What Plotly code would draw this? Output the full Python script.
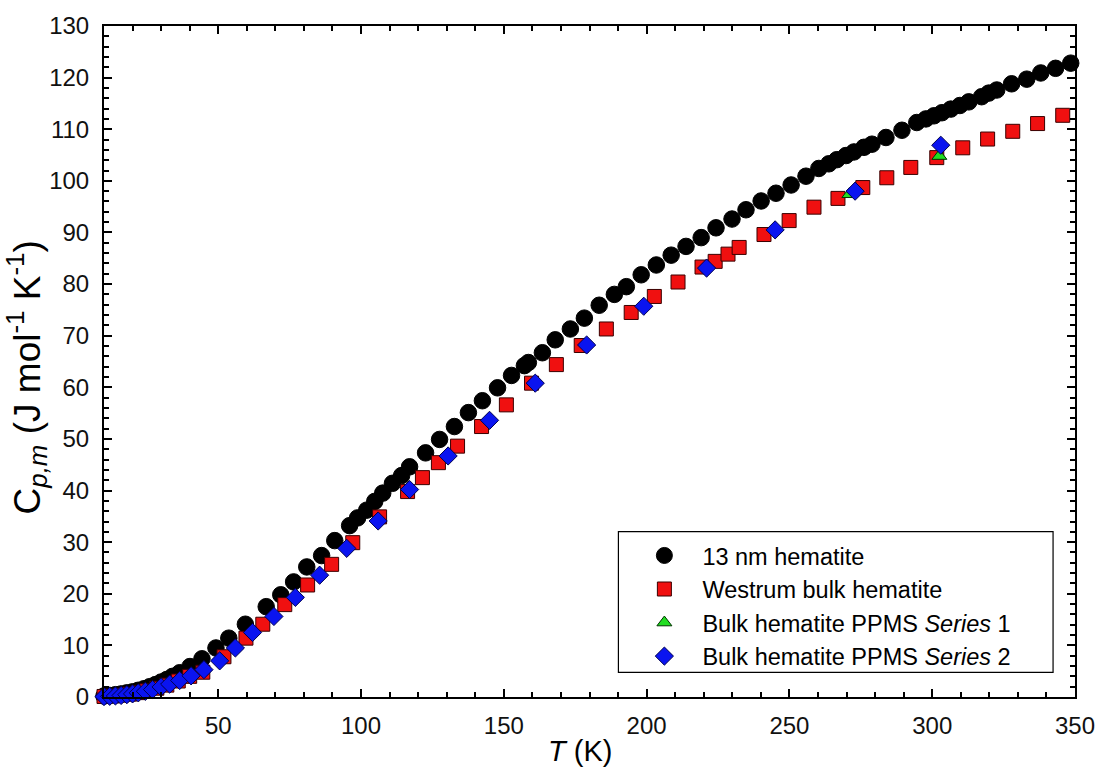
import plotly.graph_objects as go

# ---- data ----
nano_T = [10, 12, 14, 16, 18, 20, 22, 24, 26, 28, 30, 32, 34, 36.5, 40.1, 44.3, 49.2, 53.7,
          59.5, 66.8, 71.9, 76.4, 81.0, 86.2, 90.8, 96.0, 98.8, 102.0, 104.8, 107.6, 111.0,
          114.2, 117.0, 122.6, 127.5, 132.7, 137.6, 142.5, 147.8, 152.7, 157.2, 158.6, 163.5,
          168.0, 173.3, 178.2, 183.4, 188.7, 192.9, 198.1, 203.4, 208.6, 213.8, 219.1, 224.3,
          229.9, 234.8, 240.1, 245.3, 250.6, 255.8, 260.3, 263.8, 266.6, 269.8, 272.6, 276.1,
          278.9, 283.8, 289.4, 294.6, 297.8, 300.6, 303.4, 306.5, 309.7, 312.8, 317.3, 319.8,
          322.6, 327.8, 333.1, 338.0, 343.2, 348.5]
nano_Cp = [0.2, 0.3, 0.45, 0.6, 0.8, 1.0, 1.3, 1.6, 2.0, 2.4, 2.9, 3.4, 4.0, 4.7, 5.9, 7.4, 9.5, 11.4,
           14.1, 17.5, 19.8, 22.3, 25.2, 27.4, 30.3, 33.2, 34.7, 36.2, 37.9, 39.5, 41.4,
           42.9, 44.6, 47.3, 49.9, 52.4, 55.1, 57.4, 59.9, 62.3, 64.2, 64.8, 66.7,
           69.2, 71.3, 73.4, 75.9, 78.0, 79.5, 81.8, 83.7, 85.6, 87.3, 89.0, 90.9,
           92.6, 94.4, 96.1, 97.6, 99.2, 100.9, 102.4, 103.3, 104.1, 104.9, 105.6, 106.5,
           107.1, 108.4, 109.8, 111.3, 112.0, 112.6, 113.2, 113.9, 114.6, 115.3, 116.3, 117.0,
           117.6, 118.8, 119.7, 120.9, 121.8, 122.8]

westrum_T = [10, 13, 16, 19, 22, 25, 28.5, 32, 36, 40, 44.6, 52.0, 59.7, 65.6, 73.3, 81.3, 89.7,
             97.1, 106.5, 116.3, 121.5, 127.1, 133.8, 142.2, 150.9, 159.7, 168.4, 177.1, 185.9,
             194.6, 202.7, 211.0, 219.4, 224.0, 228.5, 232.4, 241.1, 249.9, 258.6, 267.0, 275.7,
             284.1, 292.5, 301.6, 310.7, 319.4, 328.2, 336.9, 345.7]
westrum_Cp = [0.1, 0.2, 0.35, 0.55, 0.85, 1.2, 1.7, 2.3, 3.1, 4.0, 4.8, 7.8, 11.4, 14.1, 17.9, 21.7, 25.7,
              29.9, 34.9, 39.8, 42.5, 45.4, 48.6, 52.4, 56.6, 60.8, 64.4, 68.1, 71.3,
              74.5, 77.6, 80.4, 83.3, 84.4, 85.8, 87.1, 89.6, 92.3, 94.9, 96.6, 98.7,
              100.6, 102.6, 104.5, 106.4, 108.1, 109.6, 111.1, 112.7]

s1_T = [271.0, 302.5]
s1_Cp = [97.4, 104.8]

s2_T = [10, 12, 14, 16, 18, 20, 22, 24.5, 27, 30, 33, 36.5, 40.5, 45, 50.5, 56, 62, 69.5, 77,
        85.5, 95, 106, 117, 130.5, 145, 161, 179, 199, 221, 245, 273, 303]
s2_Cp = [0.08, 0.13, 0.2, 0.3, 0.45, 0.6, 0.8, 1.1, 1.45, 1.95, 2.5, 3.2, 4.1, 5.3, 7.0, 9.5, 12.5,
         15.6, 19.3, 23.6, 28.8, 34.1, 40.2, 46.7, 53.6, 60.8, 68.2, 75.7, 83.1, 90.5, 98.0, 106.9]

series_names = ["13 nm hematite", "Westrum bulk hematite",
                "Bulk hematite PPMS <i>Series</i> 1", "Bulk hematite PPMS <i>Series</i> 2"]
x_title = "<i>T</i> (K)"
y_title = "C<sub><i>p,m</i></sub> (J mol<sup>-1</sup> K<sup>-1</sup>)"

FONT = "Liberation Sans, Arial, sans-serif"

fig = go.Figure()
fig.add_trace(go.Scatter(x=nano_T, y=nano_Cp, mode="markers", name=series_names[0],
                         cliponaxis=False,
                         marker=dict(symbol="circle", size=16.5, color="#000000",
                                     line=dict(color="#000000", width=1))))
fig.add_trace(go.Scatter(x=westrum_T, y=westrum_Cp, mode="markers", name=series_names[1],
                         cliponaxis=False,
                         marker=dict(symbol="square", size=14, color="#f01010",
                                     line=dict(color="#3a0000", width=1))))
fig.add_trace(go.Scatter(x=s1_T, y=s1_Cp, mode="markers", name=series_names[2],
                         cliponaxis=False,
                         marker=dict(symbol="triangle-up", size=13, color="#22dd22",
                                     line=dict(color="#003300", width=1))))
fig.add_trace(go.Scatter(x=s2_T, y=s2_Cp, mode="markers", name=series_names[3],
                         cliponaxis=False,
                         marker=dict(symbol="diamond", size=14, color="#0a14f0",
                                     line=dict(color="#000050", width=1))))

axis_common = dict(
    showline=True, linecolor="black", linewidth=2, mirror="allticks",
    ticks="inside", ticklen=8, tickwidth=2, tickcolor="black",
    showgrid=False, zeroline=False,
    tickfont=dict(family=FONT, size=24, color="#111111"),
)

fig.update_xaxes(range=[10, 350], tick0=0, dtick=50,
                 minor=dict(dtick=10, ticks="inside", ticklen=5, tickwidth=2, tickcolor="black"),
                 ticklabelstandoff=6,
                 **axis_common)
fig.update_yaxes(range=[0, 130], tick0=0, dtick=10,
                 minor=dict(dtick=2, ticks="inside", ticklen=5, tickwidth=2, tickcolor="black"),
                 ticklabelstandoff=8,
                 **axis_common)

# plot-area pixel helpers
L, R, T, B = 104, 1078, 15, 697
def px_x(p):
    return (p - L) / (R - L)
def px_y(p):
    return (B - p) / (B - T)

# axis titles as annotations (positions as in the reference)
fig.add_annotation(text=x_title, xref="paper", yref="paper", x=px_x(581), y=px_y(752),
                   xanchor="center", yanchor="middle", showarrow=False,
                   font=dict(family=FONT, size=29, color="black"))
fig.add_annotation(text=y_title, xref="paper", yref="paper", x=px_x(26), y=px_y(372),
                   xanchor="center", yanchor="middle", showarrow=False, textangle=-90,
                   font=dict(family=FONT, size=37, color="black"))

# legend frame drawn as a separate rectangle
fig.add_shape(type="rect", xref="paper", yref="paper",
              x0=px_x(620), x1=px_x(1056), y0=px_y(672), y1=px_y(529),
              line=dict(color="black", width=1.2), fillcolor="white", layer="below")

fig.update_layout(
    width=1107, height=775, autosize=False,
    margin=dict(l=104, r=29, t=15, b=78),
    paper_bgcolor="white", plot_bgcolor="white",
    font=dict(family=FONT, color="black"),
    legend=dict(x=px_x(628), xanchor="left", y=px_y(531), yanchor="top",
                bgcolor="rgba(0,0,0,0)", borderwidth=0,
                font=dict(family=FONT, size=23.5, color="black"),
                itemwidth=66, tracegroupgap=0, traceorder="normal"),
)

fig.write_html("out.html")
